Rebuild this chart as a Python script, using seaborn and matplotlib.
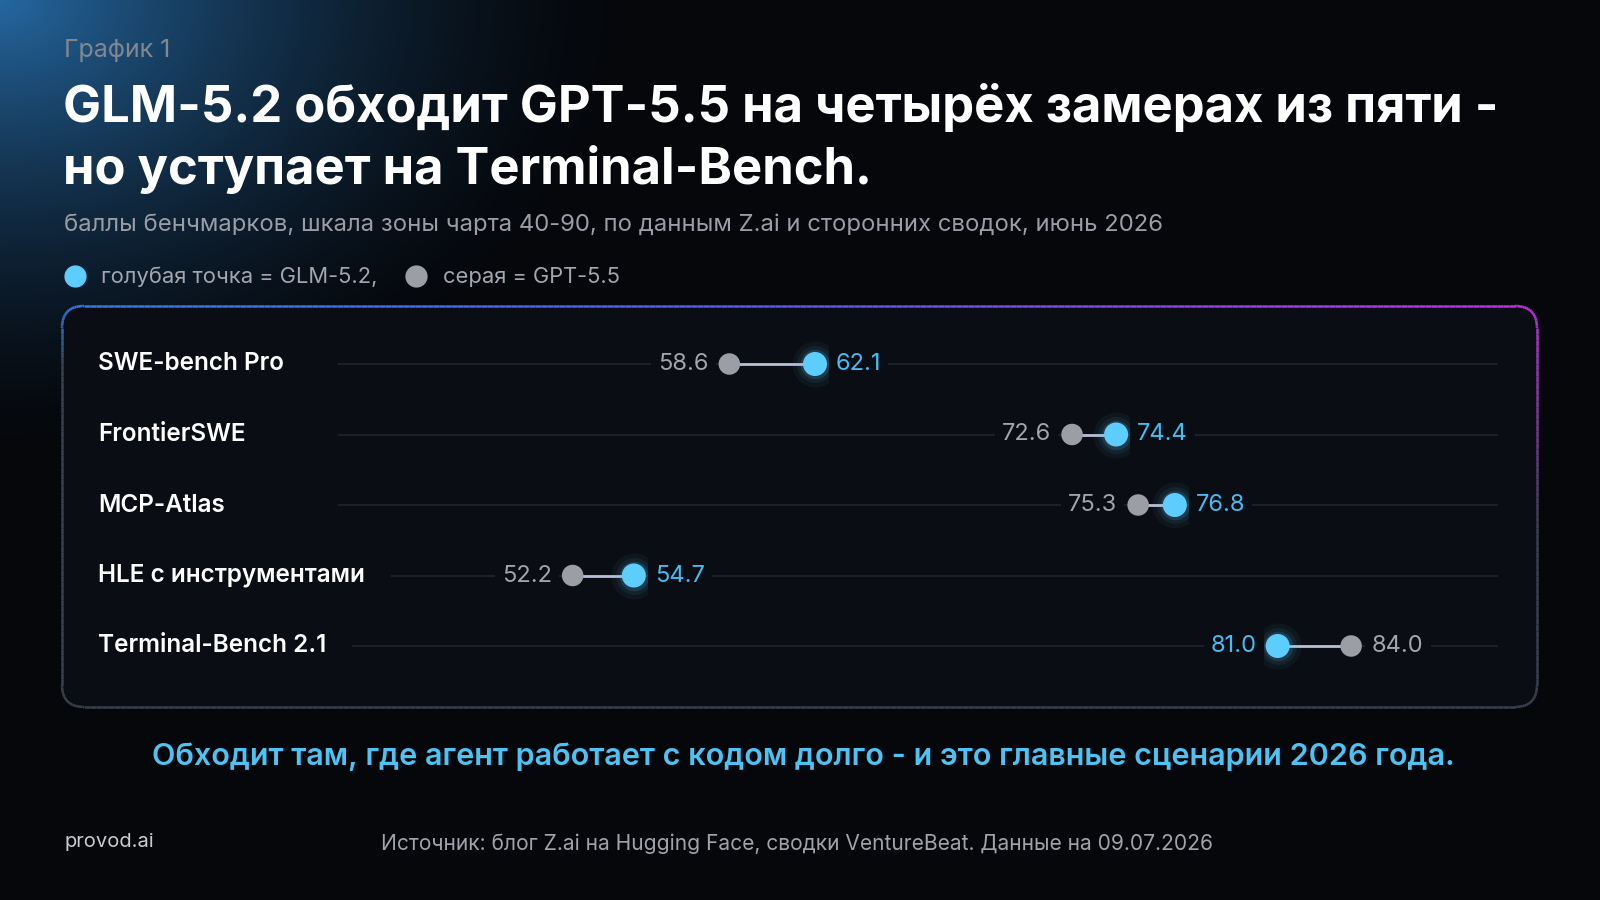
import numpy as np
import pandas as pd
import matplotlib
matplotlib.use("Agg")
import matplotlib.pyplot as plt
import seaborn as sns
from matplotlib.patches import FancyBboxPatch
from matplotlib.collections import LineCollection
from matplotlib.lines import Line2D
from matplotlib.colors import to_rgb
from matplotlib.transforms import blended_transform_factory

# --- data -------------------------------------------------------------
benchmarks = ["SWE-bench Pro", "FrontierSWE", "MCP-Atlas",
              "HLE с инструментами", "Terminal-Bench 2.1"]
glm_scores = [62.1, 74.4, 76.8, 54.7, 81.0]
gpt_scores = [58.6, 72.6, 75.3, 52.2, 84.0]
x_range = (40, 90)

df = pd.DataFrame({"benchmark": benchmarks, "glm": glm_scores, "gpt": gpt_scores})
df["row"] = np.arange(len(df))

# --- style ------------------------------------------------------------
W, H = 1600, 900
BG = "#05070b"
PANEL = "#0a0d13"
CYAN = "#5ccdfc"
CYAN_TXT = "#45bdf2"
GRAY_DOT = "#9c9ea6"
GRAY_TXT = "#a3a5ad"
TRACK = "#1c2029"

sns.set_theme(style="dark")
plt.rcParams["font.family"] = ["Inter", "DejaVu Sans"]

fig = plt.figure(figsize=(16, 9), dpi=100)
fig.patch.set_facecolor(BG)

# background layer, pixel coordinates
bg = fig.add_axes([0, 0, 1, 1])
bg.set_xlim(0, W)
bg.set_ylim(H, 0)
bg.axis("off")

yy, xx = np.mgrid[0:H, 0:W]
d = np.sqrt((xx / 640.0) ** 2 + (yy / 460.0) ** 2)
w = np.clip(1 - d, 0, 1) ** 1.6
glow = np.array(to_rgb("#2567a0"))
base = np.array(to_rgb(BG))
img = base[None, None, :] * (1 - w[..., None]) + glow[None, None, :] * w[..., None]
bg.imshow(img, extent=(0, W, H, 0), aspect="auto", zorder=0)

# panel
px0, py0, pw, ph = 62, 306, 1475, 401
panel = FancyBboxPatch((px0, py0), pw, ph, boxstyle="round,pad=0,rounding_size=22",
                       fc=PANEL, ec="none", zorder=1)
bg.add_patch(panel)

# gradient border
verts = panel.get_path().to_polygons(closed_only=False)[0]
pts = []
for a, b in zip(verts[:-1], verts[1:]):
    n = max(2, int(np.hypot(*(b - a)) / 6))
    for t in np.linspace(0, 1, n, endpoint=False):
        pts.append(a + (b - a) * t)
pts.append(verts[-1])
pts = np.array(pts)
segs = np.stack([pts[:-1], pts[1:]], axis=1)
mid = segs.mean(axis=1)
c_left, c_mid, c_right = (np.array(to_rgb(c)) for c in ("#2f7be6", "#5a55f0", "#c02ee6"))
border_gray = np.array(to_rgb("#3a414e"))
cols = []
for mx, my in mid:
    t = np.clip((mx - px0) / pw, 0, 1)
    top = c_left + (c_mid - c_left) * (t / 0.5) if t < 0.5 else c_mid + (c_right - c_mid) * ((t - 0.5) / 0.5)
    fade_len = 60 if t < 0.5 else 220
    f = np.clip((my - py0) / fade_len, 0, 1)
    cols.append(top * (1 - f) + border_gray * f)
bg.add_collection(LineCollection(segs, colors=cols, linewidths=1.8, zorder=2))

# --- header texts -----------------------------------------------------
bg.text(64, 50, "График 1", color="#83878f", fontsize=18, va="center", ha="left", zorder=3)
bg.text(63, 107, "GLM-5.2 обходит GPT-5.5 на четырёх замерах из пяти -",
        color="white", fontsize=36.5, fontweight="bold", va="center", ha="left", zorder=3)
bg.text(63, 170, "но уступает на Terminal-Bench.",
        color="white", fontsize=36.5, fontweight="bold", va="center", ha="left", zorder=3)
bg.text(64, 225, "баллы бенчмарков, шкала зоны чарта 40-90, по данным Z.ai и сторонних сводок, июнь 2026",
        color="#9a9da5", fontsize=17.2, va="center", ha="left", zorder=3)

handles = [Line2D([], [], marker="o", ls="", color=CYAN, markersize=15),
           Line2D([], [], marker="o", ls="", color=GRAY_DOT, markersize=15)]
leg = fig.legend(handles, ["голубая точка = GLM-5.2,", "серая = GPT-5.5"],
                 loc="center left", bbox_to_anchor=(64 / W, 1 - 277 / H), ncol=2,
                 frameon=False, fontsize=15.8, handlelength=1.0, handletextpad=0.7,
                 columnspacing=1.25, borderpad=0, borderaxespad=0)
for txt in leg.get_texts():
    txt.set_color("#a3a6ae")

# --- chart ------------------------------------------------------------
ax_left, ax_right = 274, 1498
row_top, row_bottom = 364, 646
step = (row_bottom - row_top) / (len(df) - 1)
ax = fig.add_axes([ax_left / W, 1 - (row_bottom + step / 2) / H,
                   (ax_right - ax_left) / W, (row_bottom - row_top + step) / H])
ax.set_facecolor("none")
ax.set_xlim(*x_range)
ax.set_ylim(len(df) - 0.5, -0.5)
ax.axis("off")

# row labels
lab_tr = blended_transform_factory(fig.transFigure, ax.transData)
labels = []
for _, r in df.iterrows():
    labels.append(ax.text(98 / W, r["row"], r["benchmark"], transform=lab_tr, color="white",
                          fontsize=17.5, fontweight="semibold", va="center", ha="left"))

fig.canvas.draw()
renderer = fig.canvas.get_renderer()
inv = ax.transData.inverted()
for lab, (_, r) in zip(labels, df.iterrows()):
    right_px = lab.get_window_extent(renderer).x1
    start_px = max(338 / W * fig.bbox.width, right_px + 26)
    start_val = inv.transform((start_px, 0))[0]
    ax.plot([start_val, x_range[1]], [r["row"], r["row"]], color=TRACK, lw=1.5, zorder=1,
            solid_capstyle="butt")

# connectors
for _, r in df.iterrows():
    ax.plot([r["gpt"], r["glm"]], [r["row"], r["row"]], color="#b7c0d8", lw=2, zorder=2)

# glow behind GLM dots
for s, a in [(1100, 0.05), (700, 0.08), (450, 0.14)]:
    ax.scatter(df["glm"], df["row"], s=s, color=CYAN, alpha=a, linewidths=0, zorder=3)

sns.scatterplot(data=df, x="gpt", y="row", s=240, color=GRAY_DOT, edgecolor="none",
                ax=ax, zorder=5)
sns.scatterplot(data=df, x="glm", y="row", s=300, color=CYAN, edgecolor="none",
                ax=ax, zorder=6)
ax.axis("off")

# value labels: lower score to the left of its dot, higher to the right
for _, r in df.iterrows():
    for val, col, other in [(r["glm"], CYAN_TXT, r["gpt"]), (r["gpt"], GRAY_TXT, r["glm"])]:
        right = val >= other
        ax.annotate(f"{val:.1f}", (val, r["row"]), xytext=(15 if right else -15, 0),
                    textcoords="offset points", ha="left" if right else "right", va="center",
                    fontsize=17, color=col, zorder=4,
                    bbox=dict(boxstyle="square,pad=0.3", fc=PANEL, ec="none"))

# --- footer -----------------------------------------------------------
bg.text(803, 757, "Обходит там, где агент работает с кодом долго - и это главные сценарии 2026 года.",
        color="#4cc3f2", fontsize=22, fontweight="semibold", ha="center", va="center", zorder=3)
bg.text(64, 842, "provod.ai", color="#c9cbd0", fontsize=14.5, ha="left", va="center", zorder=3)
bg.text(381, 844, "Источник: блог Z.ai на Hugging Face, сводки VentureBeat. Данные на 09.07.2026",
        color="#a0a3aa", fontsize=15.1, ha="left", va="center", zorder=3)

fig.savefig("out.png", dpi=100, facecolor=BG)
